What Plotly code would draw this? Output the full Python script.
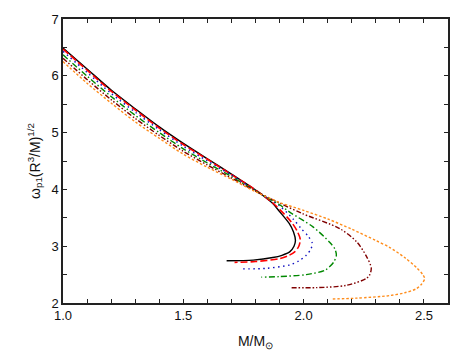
import plotly.graph_objects as go

# Data
black_x = [1.0, 1.1, 1.2, 1.3, 1.4, 1.5, 1.6, 1.7, 1.8, 1.872, 1.9, 1.94, 1.958, 1.966, 1.96, 1.942, 1.91, 1.872, 1.79, 1.68]
black_y = [6.49, 6.12, 5.75, 5.42, 5.10, 4.81, 4.54, 4.27, 3.99, 3.75, 3.61, 3.40, 3.25, 3.10, 3.00, 2.90, 2.84, 2.80, 2.755, 2.745]

red_x = [1.0, 1.1, 1.2, 1.3, 1.4, 1.5, 1.6, 1.7, 1.8, 1.88, 1.95, 1.975, 1.986, 1.98, 1.963, 1.935, 1.90, 1.80, 1.713]
red_y = [6.47, 6.10, 5.73, 5.40, 5.08, 4.79, 4.53, 4.26, 3.99, 3.73, 3.42, 3.25, 3.12, 3.00, 2.90, 2.83, 2.78, 2.73, 2.715]

blue_x = [1.0, 1.1, 1.2, 1.3, 1.4, 1.5, 1.6, 1.7, 1.8, 1.9, 1.956, 1.99, 2.02, 2.036, 2.03, 2.011, 1.98, 1.942, 1.845, 1.748]
blue_y = [6.43, 6.06, 5.69, 5.36, 5.05, 4.76, 4.50, 4.25, 3.98, 3.71, 3.48, 3.31, 3.17, 3.05, 2.95, 2.84, 2.74, 2.67, 2.61, 2.60]

green_x = [1.0, 1.1, 1.2, 1.3, 1.4, 1.5, 1.6, 1.7, 1.8, 1.9, 1.942, 2.039, 2.108, 2.13, 2.136, 2.125, 2.09, 2.011, 1.9, 1.824]
green_y = [6.37, 5.995, 5.635, 5.305, 5.00, 4.715, 4.465, 4.225, 3.975, 3.73, 3.60, 3.34, 3.07, 2.95, 2.84, 2.72, 2.58, 2.50, 2.465, 2.455]

maroon_x = [1.0, 1.1, 1.2, 1.3, 1.4, 1.5, 1.6, 1.7, 1.8, 1.9, 1.997, 2.15, 2.22, 2.26, 2.281, 2.275, 2.26, 2.177, 2.053, 1.942]
maroon_y = [6.31, 5.935, 5.58, 5.25, 4.95, 4.67, 4.43, 4.20, 3.97, 3.76, 3.57, 3.31, 3.08, 2.83, 2.62, 2.50, 2.43, 2.31, 2.27, 2.27]

orange_x = [1.0, 1.1, 1.2, 1.3, 1.4, 1.5, 1.6, 1.7, 1.8, 1.9, 2.0, 2.1, 2.2, 2.3, 2.357, 2.42, 2.47, 2.495, 2.503, 2.49, 2.468, 2.42, 2.357, 2.22, 2.115]
orange_y = [6.25, 5.87, 5.52, 5.19, 4.90, 4.62, 4.39, 4.18, 3.96, 3.77, 3.63, 3.48, 3.30, 3.10, 2.98, 2.80, 2.62, 2.50, 2.43, 2.33, 2.25, 2.18, 2.13, 2.085, 2.07]

x_ticks = [1.0, 1.5, 2.0, 2.5]
x_tick_labels = ["1.0", "1.5", "2.0", "2.5"]
y_ticks = [2, 3, 4, 5, 6, 7]

series = [
    (black_x, black_y, "#000000", "solid", 1.4),
    (red_x, red_y, "#ff0000", "7px,3px", 1.6),
    (blue_x, blue_y, "#1010c0", "1.5px,3.5px", 1.4),
    (green_x, green_y, "#008800", "6px,2.5px,1.5px,2.5px", 1.4),
    (maroon_x, maroon_y, "#800000", "5px,2px,1.5px,2px,1.5px,2px", 1.4),
    (orange_x, orange_y, "#ff8c1a", "2.5px,2px", 1.4),
]

fig = go.Figure()
for xs, ys, col, dash, w in series:
    fig.add_trace(go.Scatter(x=xs, y=ys, mode="lines",
                             line=dict(color=col, dash=dash, width=w, shape="spline", smoothing=0.8),
                             showlegend=False))

FONT = "Liberation Sans, Arial, sans-serif"
axis_common = dict(showgrid=False, zeroline=False, showline=True, linecolor="#222222", linewidth=1.5,
                   mirror="ticks", ticks="inside", ticklen=4, tickwidth=1, tickcolor="#222222",
                   automargin=False,
                   tickfont=dict(family=FONT, size=13, color="#111111"))

fig.update_xaxes(range=[1.0, 2.6], tickvals=x_ticks, ticktext=x_tick_labels,
                 minor=dict(dtick=0.1, ticks="inside", ticklen=4, tickwidth=1, tickcolor="#222222"),
                 title=dict(text="M/M<sub>⊙</sub>", font=dict(family=FONT, size=14, color="#111111"), standoff=14),
                 **axis_common)
fig.update_yaxes(range=[2, 7], tickvals=y_ticks,
                 minor=dict(dtick=0.5, ticks="inside", ticklen=4, tickwidth=1, tickcolor="#222222"),
                 title=dict(text="ω<sub>p1</sub>(R<sup>3</sup>/M)<sup>1/2</sup>", font=dict(family=FONT, size=14, color="#111111"), standoff=8),
                 **axis_common)

# page body has an 8px default margin, so the figure is offset by 8px
fig.update_layout(width=455, height=347, margin=dict(l=55, r=15, t=11, b=52),
                  plot_bgcolor="white", paper_bgcolor="white")

fig.write_html("out.html")
